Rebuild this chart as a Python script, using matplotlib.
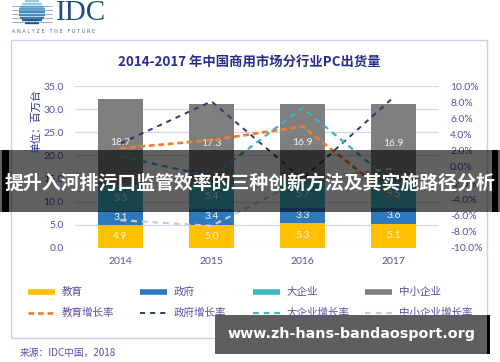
import matplotlib
matplotlib.use("Agg")
import matplotlib.pyplot as plt
from matplotlib.patches import Rectangle, Circle
from matplotlib.lines import Line2D
import numpy as np

plt.rcParams['font.family'] = ['Noto Sans CJK SC', 'DejaVu Sans']

# ---- data (millions of units / growth %) ----
years = ["2014", "2015", "2016", "2017"]
edu = [4.9, 5.0, 5.3, 5.1]
gov = [3.1, 3.4, 3.3, 3.6]
big = [5.5, 5.4, 5.7, 5.5]
sme = [18.7, 17.3, 16.9, 16.9]
edu_growth = [2.3, 3.3, 5.0, -3.9]
gov_growth = [2.9, 8.1, -1.5, 8.6]
big_growth = [1.3, -1.2, 7.3, -2.0]
sme_growth = [-6.6, -7.3, -1.6, -0.2]

bar_names = ["教育", "政府", "大企业", "中小企业"]
line_names = ["教育增长率", "政府增长率", "大企业增长率", "中小企业增长率"]
left_ticks = [0, 5, 10, 15, 20, 25, 30, 35]
right_ticks = [-10, -8, -6, -4, -2, 0, 2, 4, 6, 8, 10]

bar_colors = ["#FFC000", "#2E78BE", "#3DB5C6", "#7F7F7F"]
line_colors = ["#ED7D31", "#2B3F63", "#3DB5C6", "#C9C9C9"]
line_styles = [(0, (2.2, 1.4)), (0, (2.6, 2.6)), (0, (2.6, 2.2)), (0, (2.6, 2.2))]
line_widths = [1.9, 1.4, 1.6, 1.6]
tick_color = "#5A4FA6"
grid_color = "#D8D5F2"

W, H = 500, 362
fig = plt.figure(figsize=(W / 100, H / 100), dpi=100)
fig.patch.set_facecolor("white")


def fx(px):
    return px / W


def fy(py):
    return 1 - py / H


# outer frame
fig.add_artist(Rectangle((fx(11), fy(338)), fx(487) - fx(11), (338 - 40) / H,
                         fill=False, ec="#CFCDEF", lw=1.0, transform=fig.transFigure))

# ---- main axes ----
ax = fig.add_axes([fx(75), fy(247.7), fx(439) - fx(75), (247.7 - 86) / H])
x = np.arange(len(years))
bottom = np.zeros(len(years))
for vals, col in zip([edu, gov, big, sme], bar_colors):
    bars = ax.bar(x, vals, width=0.5, bottom=bottom, color=col, zorder=2)
    for b, v, b0 in zip(bars, vals, bottom):
        ax.text(b.get_x() + b.get_width() / 2, b0 + v / 2, f"{v:.1f}",
                ha="center", va="center", fontsize=7.5, color="#F2F2F2",
                family=["Lato", "DejaVu Sans"], zorder=3)
    bottom = bottom + np.array(vals)

ax.set_xlim(-0.5, len(years) - 0.5)
ax.set_ylim(0, 35)
ax.set_yticks(left_ticks)
ax.set_yticklabels([f"{t:.1f}" for t in left_ticks])
ax.set_xticks(x)
ax.set_xticklabels(years)
ax.grid(axis="y", color=grid_color, lw=0.9, zorder=0)
ax.set_axisbelow(True)
for s in ax.spines.values():
    s.set_visible(False)
ax.tick_params(axis="y", length=0, pad=8, labelsize=7.5, labelcolor=tick_color)
ax.tick_params(axis="x", length=0, pad=7, labelsize=7.5, labelcolor=tick_color)
for lab in ax.get_xticklabels() + ax.get_yticklabels():
    lab.set_family(["Lato", "DejaVu Sans"])

ax2 = ax.twinx()
for vals, col, ls, lw in zip([edu_growth, gov_growth, big_growth, sme_growth],
                             line_colors, line_styles, line_widths):
    ax2.plot(x, vals, color=col, ls=ls, lw=lw)
ax2.set_ylim(-10, 10)
ax2.set_yticks(right_ticks)
ax2.set_yticklabels([f"{t:.1f}%" for t in right_ticks])
for s in ax2.spines.values():
    s.set_visible(False)
ax2.tick_params(axis="y", length=0, pad=8, labelsize=7.5, labelcolor=tick_color)
for lab in ax2.get_yticklabels():
    lab.set_family(["Lato", "DejaVu Sans"])

# axis unit
fig.text(fx(36), fy(121), "单位：百万台", rotation=90, ha="center", va="center",
         fontsize=7.7, color="#2B3990")

# title
fig.text(fx(249.5), fy(62.5), "2014-2017 年中国商用市场分行业PC出货量", ha="center",
         va="center", fontsize=9.6, weight="bold", color="#2A2C8C")

# ---- legend ----
cols_x = [28, 140, 253, 365]
for i in range(4):
    x0 = cols_x[i]
    fig.add_artist(Line2D([fx(x0), fx(x0 + 27)], [fy(292), fy(292)], lw=4,
                          color=bar_colors[i], solid_capstyle="butt",
                          transform=fig.transFigure))
    fig.text(fx(x0 + 34), fy(292), bar_names[i], va="center", ha="left",
             fontsize=7.6, color=tick_color)
    fig.add_artist(Line2D([fx(x0), fx(x0 + 27)], [fy(313), fy(313)],
                          lw=line_widths[i], ls=line_styles[i],
                          color=line_colors[i], transform=fig.transFigure))
    fig.text(fx(x0 + 34), fy(313), line_names[i], va="center", ha="left",
             fontsize=7.6, color=tick_color)

# source
fig.text(fx(20), fy(353), "来源：IDC中国，2018", va="center", ha="left",
         fontsize=7, color=tick_color)

# ---- logo ----
cx, cy, r = 32, 12, 13
shades = ["#9ACBE8", "#7FB8DF", "#5FA3D3", "#3F8BC4", "#2A74B0", "#1E5F98", "#174E80"]
for k, yy in enumerate(np.linspace(cy - r + 2, cy + r - 2, 9)):
    half = np.sqrt(max(r ** 2 - (yy - cy) ** 2, 0))
    c = shades[min(int(k * len(shades) / 9), len(shades) - 1)]
    fig.add_artist(Line2D([fx(cx - half), fx(cx + half)], [fy(yy), fy(yy)], lw=1.7,
                          color=c, transform=fig.transFigure, solid_capstyle="butt"))
for yy in [6, 10, 14, 18, 22]:
    fig.add_artist(Line2D([fx(12), fx(52)], [fy(yy), fy(yy)], lw=0.5,
                          color="#5E8FB8", transform=fig.transFigure))
fig.text(fx(56), fy(13), "IDC", family="Liberation Serif", fontsize=21,
         color="#1F4E79", va="center", ha="left")
fig.text(fx(12), fy(31.5), "A N A L Y Z E   T H E   F U T U R E", family="DejaVu Sans",
         fontsize=3.6, color="#4A6A8A", va="center", ha="left")

# ---- overlay banner ----
fig.add_artist(Rectangle((0, fy(212)), 1, 62 / H, fc="black", alpha=0.62, ec="none",
                         transform=fig.transFigure))
fig.add_artist(Rectangle((fx(2), fy(212)), fx(7), 62 / H, fc="black", ec="none",
                         transform=fig.transFigure))
fig.add_artist(Rectangle((fx(492), fy(212)), fx(6), 62 / H, fc="black", ec="none",
                         transform=fig.transFigure))
fig.text(0.5, fy(183), "提升入河排污口监管效率的三种创新方法及其实施路径分析",
         ha="center", va="center", fontsize=13.6, weight="bold", color="white")

# ---- watermark box ----
fig.add_artist(Rectangle((fx(215), fy(354)), fx(272), 39 / H, fc="#5E5E5E", ec="none",
                         transform=fig.transFigure))
fig.add_artist(Rectangle((fx(487), fy(354)), fx(3), 39 / H, fc="black", ec="none",
                         transform=fig.transFigure))
fig.text(fx(352), fy(334), "www.zh-hans-bandaosport.org", ha="center", va="center",
         fontsize=10.3, weight="bold", color="white", family="DejaVu Sans")

fig.savefig("out.png", dpi=100)
